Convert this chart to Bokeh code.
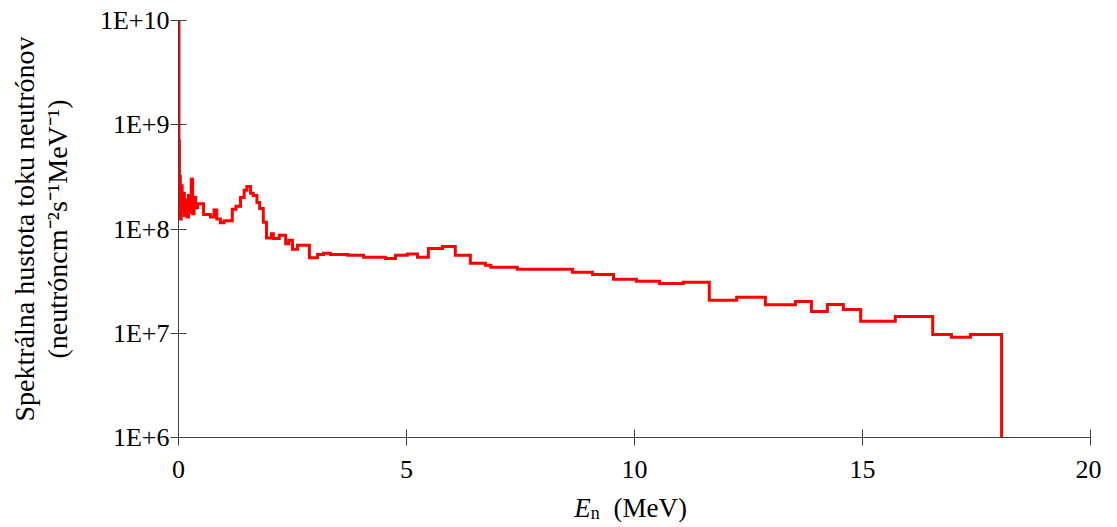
from bokeh.plotting import figure
from bokeh.layouts import column
from bokeh.embed import file_html
from bokeh.resources import INLINE
from bokeh.models import FixedTicker, CustomJSTickFormatter, Range1d
from bokeh.core.properties import value

# Energy group edges (MeV) and spectral neutron flux density per group
energy_edges = [0.0, 0.01, 0.02, 0.04, 0.06, 0.08, 0.10, 0.13, 0.16, 0.19, 0.22,
                0.25, 0.28, 0.31, 0.34, 0.38, 0.42, 0.55, 0.70, 0.78, 0.84, 0.92,
                1.00, 1.18, 1.26, 1.36, 1.44, 1.50, 1.58, 1.64, 1.72, 1.78, 1.86,
                1.93, 2.04, 2.08, 2.21, 2.35, 2.42, 2.50, 2.61, 2.87, 3.05, 3.18,
                3.33, 3.71, 4.06, 4.54, 4.76, 5.02, 5.24, 5.48, 5.79, 6.07, 6.40,
                6.73, 6.85, 7.43, 8.64, 9.08, 9.54, 10.04, 10.55, 11.07, 11.64,
                12.24, 12.87, 13.53, 13.88, 14.23, 14.58, 14.96, 15.72, 16.54,
                16.95, 17.37, 18.05]

flux = [9.8e9, 7.0e8, 3.2e8, 1.25e8, 2.6e8, 1.5e8, 2.2e8, 1.35e8, 1.9e8, 1.3e8,
        2.1e8, 1.45e8, 3.0e8, 1.4e8, 2.0e8, 1.6e8,
        1.75e8, 1.38e8, 1.3e8, 1.52e8, 1.25e8, 1.15e8,
        1.2e8, 1.55e8, 1.65e8, 2.0e8, 2.35e8, 2.55e8, 2.2e8, 2.1e8, 1.8e8, 1.57e8, 1.16e8,
        8.2e7, 9.0e7, 8.1e7, 8.7e7, 7.2e7, 7.8e7, 6.4e7, 7.0e7,
        5.3e7, 5.7e7, 5.85e7, 5.7e7,
        5.6e7, 5.35e7, 5.2e7,
        5.6e7, 5.75e7, 5.35e7, 6.5e7,
        6.8e7, 5.6e7, 4.7e7, 4.5e7,
        4.3e7, 4.1e7, 3.85e7, 3.67e7,
        3.3e7, 3.15e7, 3.0e7, 3.08e7,
        2.07e7, 2.21e7, 1.88e7, 2.02e7,
        1.62e7, 1.89e7, 1.69e7, 1.30e7,
        1.45e7, 9.75e6, 9.14e6, 9.75e6]

assert len(energy_edges) == len(flux) + 1

cutoff_floor = 1e6
x_ticks = [0, 5, 10, 15, 20]
y_ticks = [1e6, 1e7, 1e8, 1e9, 1e10]

# step path
xs, ys = [], []
for i, v in enumerate(flux):
    xs += [energy_edges[i], energy_edges[i + 1]]
    ys += [v, v]
xs.append(energy_edges[-1])
ys.append(cutoff_floor)

FONT = "Liberation Serif"
LEFT, FW, FH, TOP = 178, 912, 417, 20
W = 1101

xr = Range1d(0, 20)
p = figure(width=W, height=TOP + FH + 45, y_axis_type="log",
           x_range=xr, y_range=Range1d(1e6, 1e10),
           output_backend="svg", toolbar_location=None,
           min_border_left=LEFT, min_border_right=W - LEFT - FW,
           min_border_top=TOP, min_border_bottom=45,
           frame_width=FW, frame_height=FH)

p.line(xs, ys, line_color="#FF0000", line_width=3, line_join="miter")

p.grid.visible = False
p.outline_line_color = None

for ax in (p.xaxis[0], p.yaxis[0]):
    ax.axis_line_color = "#404040"
    ax.major_tick_line_color = "#404040"
    ax.major_tick_in = 8
    ax.major_tick_out = 8
    ax.minor_tick_line_color = None
    ax.major_label_text_font = FONT
    ax.major_label_text_font_size = "26px"
    ax.major_label_text_color = "#000000"
    ax.axis_label_text_font = FONT
    ax.axis_label_text_font_style = "normal"
    ax.axis_label_text_color = "#000000"

p.xaxis.ticker = FixedTicker(ticks=x_ticks)
p.xaxis.major_label_standoff = 15
p.yaxis.ticker = FixedTicker(ticks=y_ticks)
p.yaxis.formatter = CustomJSTickFormatter(code="return '1E+' + Math.round(Math.log10(tick));")
p.yaxis.major_label_standoff = 1

p.yaxis.axis_label = "Spektrálna hustota toku neutrónov\n(neutróncm⁻²s⁻¹MeV⁻¹)"
p.yaxis.axis_label_text_font_size = "28px"
p.yaxis.axis_label_standoff = 24
p.yaxis.axis_label_text_line_height = 1.05

# x-axis title strip: italic E with subscript n, then (MeV)
SH = 40
t = figure(width=W, height=SH, x_range=xr, y_range=Range1d(0, SH),
           output_backend="svg", toolbar_location=None,
           min_border_left=LEFT, min_border_right=W - LEFT - FW,
           min_border_top=0, min_border_bottom=0,
           frame_width=FW, frame_height=SH)
t.axis.visible = False
t.grid.visible = False
t.outline_line_color = None
t.text(x=[8.68], y=[15], text=["E"], text_font=value(FONT), text_font_style="italic",
       text_font_size="27px", text_baseline="alphabetic", text_color="#000000")
t.text(x=[9.04], y=[10], text=["n"], text_font=value(FONT),
       text_font_size="18px", text_baseline="alphabetic", text_color="#000000")
t.text(x=[9.54], y=[15], text=["(MeV)"], text_font=value(FONT),
       text_font_size="27px", text_baseline="alphabetic", text_color="#000000")

layout = column(p, t, spacing=0)
open("out.html", "w").write(file_html(layout, INLINE))
